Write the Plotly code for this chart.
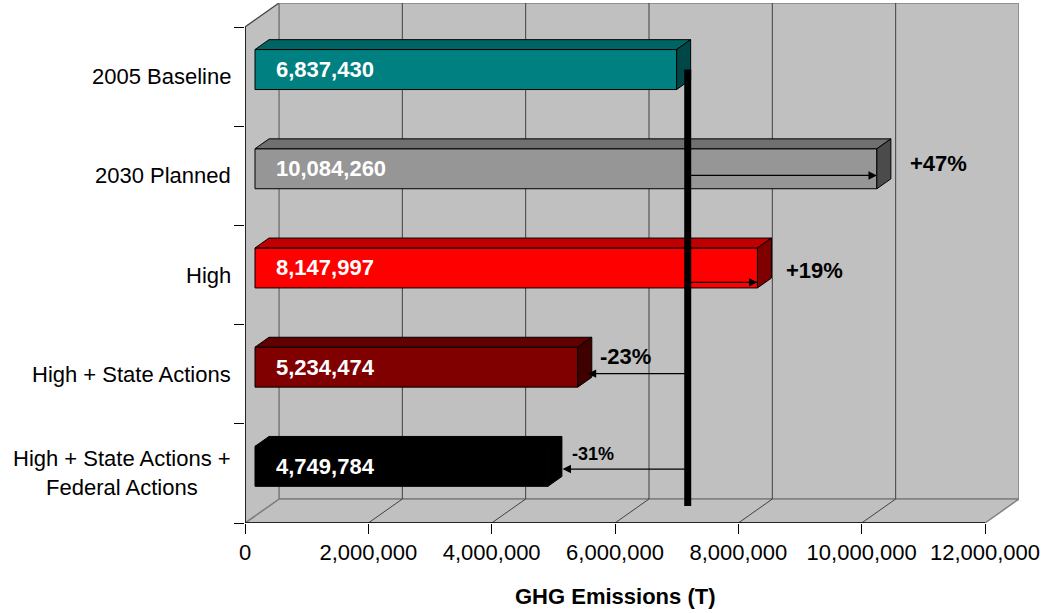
import plotly.graph_objects as go

# ---- data ----
categories = ["2005 Baseline", "2030 Planned", "High", "High + State Actions",
              "High + State Actions +<br>Federal Actions"]
values = [6837430, 10084260, 8147997, 5234474, 4749784]
front_colors = ["#008080", "#969696", "#FF0000", "#800000", "#000000"]
top_colors = ["#006464", "#707070", "#C00000", "#600000", "#000000"]
side_colors = ["#004848", "#4B4B4B", "#800000", "#400000", "#000000"]
tick_vals = [0, 2000000, 4000000, 6000000, 8000000, 10000000, 12000000]
tick_text = ["0", "2,000,000", "4,000,000", "6,000,000", "8,000,000", "10,000,000", "12,000,000"]
x_title = "GHG Emissions (T)"

# ---- geometry / style (pixel helpers) ----
XMAX = 12000000
PX_X = XMAX / 740.0          # value units per pixel
PX_Y = 1 / 99.2              # band units per pixel
DX = 34 * PX_X               # full depth offset, x
DY = 24 * PX_Y               # full depth offset, y
F1, F2 = 0.294, 0.706        # bar front/back depth fractions
H = 40 * PX_Y                # bar thickness
n = len(categories)
FONT = "Arial, Liberation Sans, sans-serif"
WALL = "#C0C0C0"
EDGE = "#808080"

fig = go.Figure()
shapes = []

# back wall, floor, left wall
shapes.append(dict(type="rect", xref="x", yref="y", x0=DX, x1=XMAX + DX, y0=DY, y1=n + DY,
                   fillcolor=WALL, line=dict(color=EDGE, width=1.5), layer="below"))
shapes.append(dict(type="path", xref="x", yref="y",
                   path=f"M 0 0 L {XMAX} 0 L {XMAX+DX} {DY} L {DX} {DY} Z",
                   fillcolor=WALL, line=dict(color=EDGE, width=1.5), layer="below"))
shapes.append(dict(type="path", xref="x", yref="y",
                   path=f"M 0 0 L {DX} {DY} L {DX} {n+DY} L 0 {n} Z",
                   fillcolor=WALL, line=dict(color=EDGE, width=1.5), layer="below"))
# gridlines on back wall and floor
for tv in tick_vals[1:-1]:
    shapes.append(dict(type="line", xref="x", yref="y", x0=tv + DX, x1=tv + DX, y0=DY, y1=n + DY,
                       line=dict(color="#404040", width=1), layer="below"))
    shapes.append(dict(type="line", xref="x", yref="y", x0=tv, x1=tv + DX, y0=0, y1=DY,
                       line=dict(color="#404040", width=1), layer="below"))
# left wall top diagonal
shapes.append(dict(type="line", xref="x", yref="y", x0=0, x1=DX, y0=n, y1=n + DY,
                   line=dict(color="#404040", width=1), layer="below"))
# front axis lines
shapes.append(dict(type="line", xref="x", yref="y", x0=0, x1=0, y0=0, y1=n,
                   line=dict(color="black", width=1.5), layer="below"))
shapes.append(dict(type="line", xref="x", yref="y", x0=0, x1=XMAX, y0=0, y1=0,
                   line=dict(color="black", width=1.5), layer="below"))

# bars
ycenters = [n - 0.5 - i for i in range(n)]
yfront = [yc + F1 * DY for yc in ycenters]
fig.add_trace(go.Bar(orientation="h", x=values, y=yfront, base=[F1 * DX] * n, width=H,
                     marker=dict(color=front_colors, line=dict(color="black", width=1)),
                     hoverinfo="skip", showlegend=False))
for i, v in enumerate(values):
    xf0, xf1 = F1 * DX, v + F1 * DX
    xb0, xb1 = F2 * DX, v + F2 * DX
    yt_f, yb_f = yfront[i] + H / 2, yfront[i] - H / 2
    dyy = (F2 - F1) * DY
    fig.add_trace(go.Scatter(x=[xf0, xf1, xb1, xb0, xf0],
                             y=[yt_f, yt_f, yt_f + dyy, yt_f + dyy, yt_f],
                             fill="toself", fillcolor=top_colors[i], mode="lines",
                             line=dict(color="black", width=1), hoverinfo="skip", showlegend=False))
    fig.add_trace(go.Scatter(x=[xf1, xb1, xb1, xf1, xf1],
                             y=[yt_f, yt_f + dyy, yb_f + dyy, yb_f, yt_f],
                             fill="toself", fillcolor=side_colors[i], mode="lines",
                             line=dict(color="black", width=1), hoverinfo="skip", showlegend=False))

# baseline reference line
base = values[0]
line_x = base + 0.62 * DX
shapes.append(dict(type="line", xref="x", yref="y", x0=line_x, x1=line_x,
                   y0=yfront[0], y1=F2 * DY, line=dict(color="black", width=7), layer="above"))

annotations = []
# category labels
for i, c in enumerate(categories):
    annotations.append(dict(text=c, xref="paper", yref="y", x=0, y=ycenters[i], xanchor="right",
                            yanchor="middle", xshift=-12, showarrow=False, align="center",
                            font=dict(family=FONT, size=22, color="black")))
# value labels
for i, v in enumerate(values):
    annotations.append(dict(text=f"<b>{v:,}</b>", xref="x", yref="y", x=F1 * DX, y=yfront[i],
                            xanchor="left", yanchor="middle", xshift=19, showarrow=False,
                            font=dict(family=FONT, size=22, color="white")))
# change arrows and percentages
arrow_dy_px = [0, 6.7, 14.4, 6.5, 2.7]
tip_dx_px = [0, 0, 0, 10, 14.7]
pct_dx_px = [0, 17, 12.5, 6.6, 8]
pct_dy_px = [0, 5.3, -2.4, 11, 12]
pct_size = [22, 22, 22, 22, 18]
for i in range(1, n):
    v = values[i]
    ya = yfront[i] - arrow_dy_px[i] * PX_Y
    annotations.append(dict(x=v + F1 * DX + tip_dx_px[i] * PX_X, y=ya, ax=line_x, ay=ya,
                            xref="x", yref="y", axref="x", ayref="y", text="", showarrow=True,
                            arrowhead=2, arrowsize=1.4, arrowwidth=1.2, arrowcolor="black"))
    pct = round((v / base - 1) * 100)
    annotations.append(dict(text=f"<b>{pct:+d}%</b>", xref="x", yref="y", x=v + F2 * DX,
                            y=yfront[i], xanchor="left", yanchor="middle",
                            xshift=pct_dx_px[i], yshift=pct_dy_px[i], showarrow=False,
                            font=dict(family=FONT, size=pct_size[i], color="black")))
# axis title
annotations.append(dict(text=f"<b>{x_title}</b>", xref="x", yref="paper", x=XMAX / 2, y=0,
                        yanchor="middle", yshift=-73, showarrow=False,
                        font=dict(family=FONT, size=22, color="black")))

fig.update_layout(
    width=1045, height=613,
    margin=dict(l=245, r=26, t=3, b=90),
    paper_bgcolor="white", plot_bgcolor="white",
    shapes=shapes, annotations=annotations, bargap=0,
    xaxis=dict(range=[0, XMAX + DX], tickvals=tick_vals, ticktext=tick_text, ticks="outside",
               ticklen=10, tickcolor="black", showgrid=False, zeroline=False, showline=False,
               tickfont=dict(family=FONT, size=22, color="black"), fixedrange=True),
    yaxis=dict(range=[0, n + DY], tickvals=list(range(n + 1)), ticks="outside", ticklen=10,
               tickcolor="black", showticklabels=False, showgrid=False, zeroline=False,
               showline=False, fixedrange=True),
)

fig.write_html("out.html", config={"displayModeBar": False, "staticPlot": True},
               post_script="document.body.style.margin='0';document.body.style.overflow='hidden';")
